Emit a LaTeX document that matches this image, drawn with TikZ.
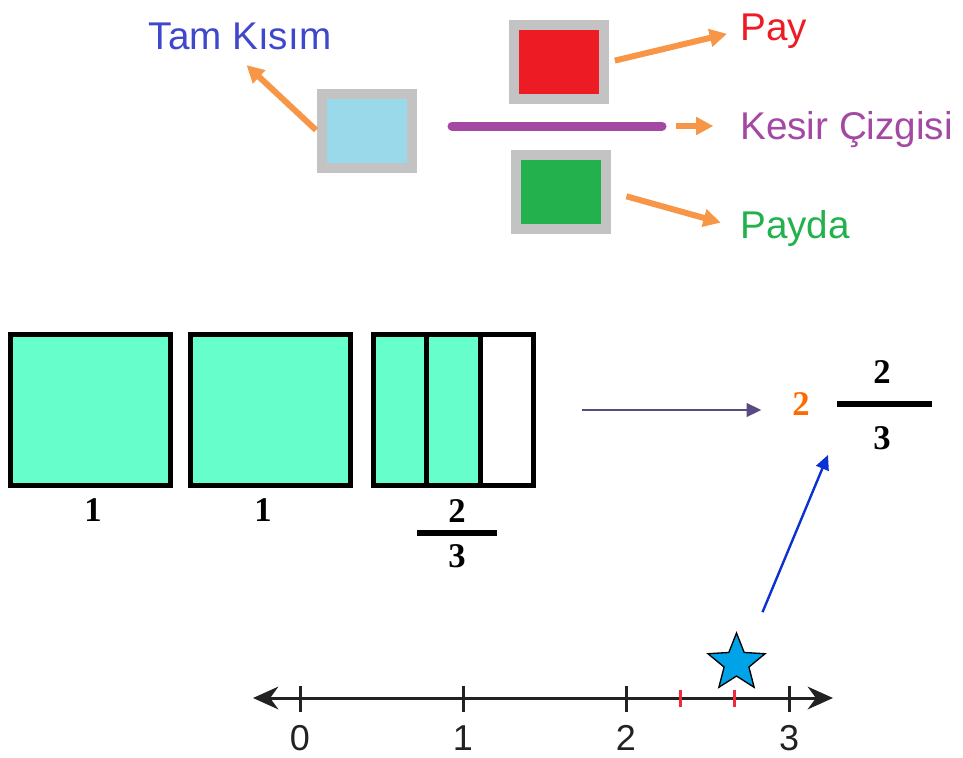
\documentclass[tikz,border=0pt]{standalone}
\usepackage{fontspec}
\setmainfont{Liberation Serif}
\setsansfont{Liberation Sans}
\usetikzlibrary{arrows.meta,%
                shapes.geometric,%
                calc}

\definecolor{kgri}{HTML}{C3C3C3}
\definecolor{tammavi}{HTML}{99D9EA}
\definecolor{paykirmizi}{HTML}{ED1C24}
\definecolor{paydayesil}{HTML}{22B14C}
\definecolor{mor}{HTML}{A349A4}
\definecolor{lacivert}{HTML}{3F48CC}
\definecolor{turuncu}{HTML}{F79646}
\definecolor{kareyesil}{HTML}{66FFCC}
\definecolor{koyumor}{HTML}{5A4A82}
\definecolor{tamturuncu}{HTML}{FF6A00}
\definecolor{okmavi}{HTML}{0A32D2}
\definecolor{yildizmavi}{HTML}{00A2E8}
\definecolor{cizgikirmizi}{HTML}{EE2A3C}
\definecolor{koyugri}{HTML}{222222}

\begin{document}
\begin{tikzpicture}[x=0.75pt,y=-0.75pt]
  \useasboundingbox (0,0) rectangle (963,757);

  \tikzstyle{Kutu}=[draw=kgri,line width=7.5pt,minimum width=67.5pt,minimum height=55.5pt,inner sep=0pt]
  \tikzstyle{Etiket}=[font=\sffamily\fontsize{29}{34}\selectfont,inner sep=0pt]
  \tikzstyle{TuruncuOk}=[draw=turuncu,line width=4.5pt,-{Triangle[length=13pt,width=13pt]}]
  \tikzstyle{Kare}=[draw,line width=3.75pt,fill=kareyesil,minimum width=120pt,minimum height=113pt,inner sep=0pt,outer sep=0pt]
  \tikzstyle{Sayi}=[font=\bfseries\fontsize{26}{30}\selectfont,inner sep=0pt]
  \tikzstyle{Cubuk}=[fill=black,inner sep=0pt,minimum height=4.5pt]

  % kesrin parcalari
  \node[Kutu,fill=tammavi] (tam) at (367,131) {};
  \node[Kutu,fill=paykirmizi] (pay) at (559,62) {};
  \node[Kutu,fill=paydayesil] (payda) at (561,192) {};
  \coordinate (cizgi1) at (452,126);
  \coordinate (cizgi2) at (662,126);
  \draw[mor,line width=6.75pt,line cap=round] (cizgi1) -- (cizgi2);

  \node[Etiket,text=lacivert,anchor=base] (tamyazi) at (240,49) {Tam Kısım};
  \node[Etiket,text=paykirmizi,anchor=base west] (payyazi) at (740,40) {Pay};
  \node[Etiket,text=mor,anchor=base west] (kesiryazi) at (740,139) {Kesir Çizgisi};
  \node[Etiket,text=paydayesil,anchor=base west] (paydayazi) at (740,238) {Payda};

  \draw[TuruncuOk,shorten <=1pt,shorten >=17pt] (tam.west) -- ([xshift=-7.5pt]tamyazi.south);
  \draw[TuruncuOk,shorten <=4.5pt,shorten >=10pt] (pay.east) -- (payyazi.west);
  \draw[TuruncuOk,shorten <=10.5pt,shorten >=20pt] (cizgi2) -- (cizgi2 -| kesiryazi.west);
  \draw[TuruncuOk,shorten <=12pt,shorten >=15pt] (payda.east) -- (paydayazi.west);

  % modeller
  \node[Kare] (bir1) at (90.5,410) {};
  \node[Kare] (bir2) at (270.5,410) {};
  \node[Kare,fill=white,path picture={
      \fill[kareyesil] (path picture bounding box.south west) rectangle
        ($(path picture bounding box.north west)!2/3!(path picture bounding box.north east)$);}]
    (parca) at (453.5,410) {};
  \foreach \k in {1,2}
    \draw[line width=3.75pt] ($(parca.north west)!\k/3!(parca.north east)$) -- ($(parca.south west)!\k/3!(parca.south east)$);

  \node[Sayi] (etiket1) at (93,510) {1};
  \node[Sayi] (etiket2) at (263,510) {1};
  \node[Sayi] (ustiki) at (457,511) {2};
  \node[Cubuk,minimum width=60pt] (cubuk1) at (457,533) {};
  \node[Sayi] (altuc) at (457,556) {3};

  % tam sayili kesir
  \node[Sayi,text=tamturuncu] (tamkisim) at (801,404) {2};
  \node[Sayi] (sagiki) at (882,372) {2};
  \node[Cubuk,minimum width=71pt] (cubuk2) at (884.5,404) {};
  \node[Sayi] (saguc) at (882,438) {3};

  \draw[koyumor,line width=1.9pt,-{Triangle[length=11pt,width=10pt]},shorten <=36pt,shorten >=23pt]
    (parca.east) -- (parca.east -| tamkisim.west);

  % sayi dogrusu
  \coordinate (sol) at (253,698);
  \coordinate (sag) at (833,698);
  \draw[koyugri,line width=2.25pt,{Stealth[length=19pt,width=17pt]}-{Stealth[length=19pt,width=17pt]}] (sol) -- (sag);
  \foreach \i in {0,...,3} {
    \draw[koyugri,line width=2.25pt] (300+163*\i,686) -- (300+163*\i,712);
    \node[font=\sffamily\fontsize{27}{31}\selectfont,text=koyugri,inner sep=0pt,anchor=base] (s\i) at (300+163*\i,750) {\i};
  }
  \foreach \k in {1,2}
    \draw[cizgikirmizi,line width=2pt] ({626+163*\k/3},690) -- ({626+163*\k/3},707);

  \node[star,star points=5,star point ratio=2.3,draw,fill=yildizmavi,line width=1pt,minimum size=45pt,inner sep=0pt] (yildiz) at (736.5,663) {};
  \draw[okmavi,line width=1.8pt,-{Triangle[length=11pt,width=10pt]}]
    ([shift={(26,-19)}]yildiz.north) -- ([shift={(-54,5)}]saguc.south);

\end{tikzpicture}
\end{document}
